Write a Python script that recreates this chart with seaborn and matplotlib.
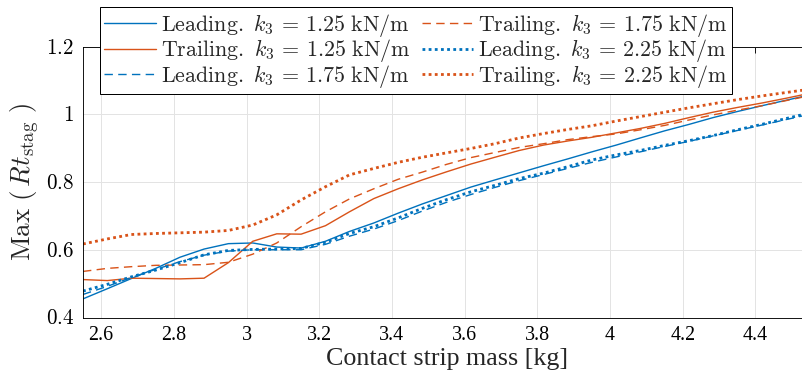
import matplotlib
matplotlib.use("Agg")
import matplotlib.pyplot as plt
import seaborn as sns
from matplotlib.ticker import FixedLocator, FuncFormatter

# Contact strip mass [kg] at which the simulations were run
mass = [2.55, 2.617, 2.683, 2.75, 2.817, 2.883, 2.95, 3.017, 3.083, 3.15,
        3.217, 3.283, 3.35, 3.417, 3.483, 3.55, 3.617, 3.683, 3.75, 3.817,
        3.883, 3.95, 4.017, 4.083, 4.15, 4.217, 4.283, 4.35, 4.417, 4.483,
        4.55]

# Max(Rt_stag) for the leading and trailing strips, per stiffness k3
lead_125 = [0.455, 0.485, 0.515, 0.545, 0.578, 0.602, 0.618, 0.620, 0.608, 0.605,
            0.625, 0.654, 0.679, 0.708, 0.735, 0.760, 0.785, 0.806, 0.827, 0.848,
            0.868, 0.889, 0.909, 0.930, 0.951, 0.970, 0.990, 1.008, 1.025, 1.041,
            1.057]
trail_125 = [0.512, 0.509, 0.516, 0.515, 0.514, 0.516, 0.562, 0.625, 0.647, 0.646,
             0.671, 0.712, 0.751, 0.780, 0.806, 0.830, 0.853, 0.873, 0.893, 0.909,
             0.921, 0.932, 0.945, 0.958, 0.973, 0.990, 1.006, 1.020, 1.033, 1.047,
             1.062]
lead_175 = [0.468, 0.492, 0.518, 0.542, 0.565, 0.584, 0.596, 0.600, 0.600, 0.600,
            0.616, 0.640, 0.661, 0.686, 0.714, 0.740, 0.763, 0.784, 0.804, 0.822,
            0.840, 0.858, 0.874, 0.889, 0.905, 0.920, 0.936, 0.952, 0.968, 0.984,
            1.000]
trail_175 = [0.536, 0.545, 0.550, 0.554, 0.555, 0.556, 0.563, 0.587, 0.620, 0.668,
             0.712, 0.750, 0.780, 0.808, 0.829, 0.852, 0.872, 0.887, 0.902, 0.913,
             0.925, 0.934, 0.942, 0.954, 0.967, 0.983, 0.998, 1.012, 1.025, 1.040,
             1.055]
lead_225 = [0.478, 0.498, 0.520, 0.540, 0.562, 0.585, 0.598, 0.601, 0.602, 0.604,
            0.622, 0.648, 0.668, 0.694, 0.722, 0.748, 0.771, 0.790, 0.810, 0.826,
            0.845, 0.865, 0.880, 0.893, 0.908, 0.922, 0.937, 0.954, 0.970, 0.987,
            1.004]
trail_225 = [0.617, 0.632, 0.645, 0.648, 0.650, 0.652, 0.657, 0.673, 0.703, 0.747,
             0.786, 0.821, 0.840, 0.858, 0.873, 0.886, 0.899, 0.913, 0.930, 0.943,
             0.955, 0.966, 0.980, 0.993, 1.006, 1.019, 1.031, 1.043, 1.054, 1.064,
             1.074]

x_ticks = [2.6, 2.8, 3.0, 3.2, 3.4, 3.6, 3.8, 4.0, 4.2, 4.4]
x_tick_labels = ["2.6", "2.8", "3", "3.2", "3.4", "3.6", "3.8", "4", "4.2", "4.4"]
y_ticks = [0.4, 0.6, 0.8, 1.0, 1.2]

BLUE = "#0072BD"
ORANGE = "#D95319"

sns.set_style("white")
plt.rcParams["font.family"] = ["Liberation Serif", "DejaVu Serif"]
plt.rcParams["mathtext.fontset"] = "cm"

fig = plt.figure(figsize=(802 / 72, 390 / 72), dpi=72)
ax = fig.add_axes([83 / 802, 1 - 317.5 / 390, (810 - 83) / 802, (317.5 - 46.5) / 390])


def legend_label(side, k3):
    return rf"$\mathrm{{{side}.}}\ k_3\,=\,{k3}\ \mathrm{{kN/m}}$"


series = [
    (legend_label("Leading", "1.25"), lead_125, BLUE, "-", 1.4),
    (legend_label("Trailing", "1.25"), trail_125, ORANGE, "-", 1.4),
    (legend_label("Leading", "1.75"), lead_175, BLUE, (0, (6, 3.8)), 1.4),
    (legend_label("Trailing", "1.75"), trail_175, ORANGE, (0, (6, 3.8)), 1.4),
    (legend_label("Leading", "2.25"), lead_225, BLUE, (0, (1, 1.2)), 2.8),
    (legend_label("Trailing", "2.25"), trail_225, ORANGE, (0, (1, 1.2)), 2.8),
]

handles = []
for label, vals, color, ls, lw in series:
    sns.lineplot(x=mass, y=vals, ax=ax, color=color, linestyle=ls, linewidth=lw,
                 estimator=None, sort=False, legend=False)
    line = ax.get_lines()[-1]
    line.set_dash_capstyle("butt")
    line.set_label(label)
    handles.append(line)

ax.set_xlim(2.55, 4.55)
ax.set_ylim(0.4, 1.2)
ax.xaxis.set_major_locator(FixedLocator(x_ticks))
ax.set_xticklabels(x_tick_labels)
ax.yaxis.set_major_locator(FixedLocator(y_ticks))
ax.yaxis.set_major_formatter(FuncFormatter(lambda v, _: f"${v:g}$"))

ax.grid(True, color="#e3e3e3", linewidth=1.0)
ax.set_axisbelow(True)
for sp in ax.spines.values():
    sp.set_color("black")
    sp.set_linewidth(0.9)
ax.tick_params(direction="in", length=6, width=0.9, top=True, right=True,
               colors="black")
ax.tick_params(axis="x", labelsize=20, pad=9)
ax.tick_params(axis="y", labelsize=21, pad=9)

ax.set_xlabel("Contact strip mass [kg]", fontsize=26, labelpad=3)
ax.set_ylabel(r"$\mathrm{Max}\ (\,Rt_{\mathrm{stag}}\ )$", fontsize=27, labelpad=4)

leg = ax.legend(handles=handles, ncol=2, loc="upper left",
                bbox_to_anchor=(100 / 802, 1 - 7.3 / 390),
                bbox_transform=fig.transFigure, fontsize=22,
                frameon=True, fancybox=False, framealpha=1, edgecolor="black",
                borderpad=0.2, borderaxespad=0, handlelength=2.35,
                handletextpad=0.22, columnspacing=0.5, labelspacing=-0.06)
leg.get_frame().set_linewidth(1.0)

fig.savefig("out.png", dpi=72)
